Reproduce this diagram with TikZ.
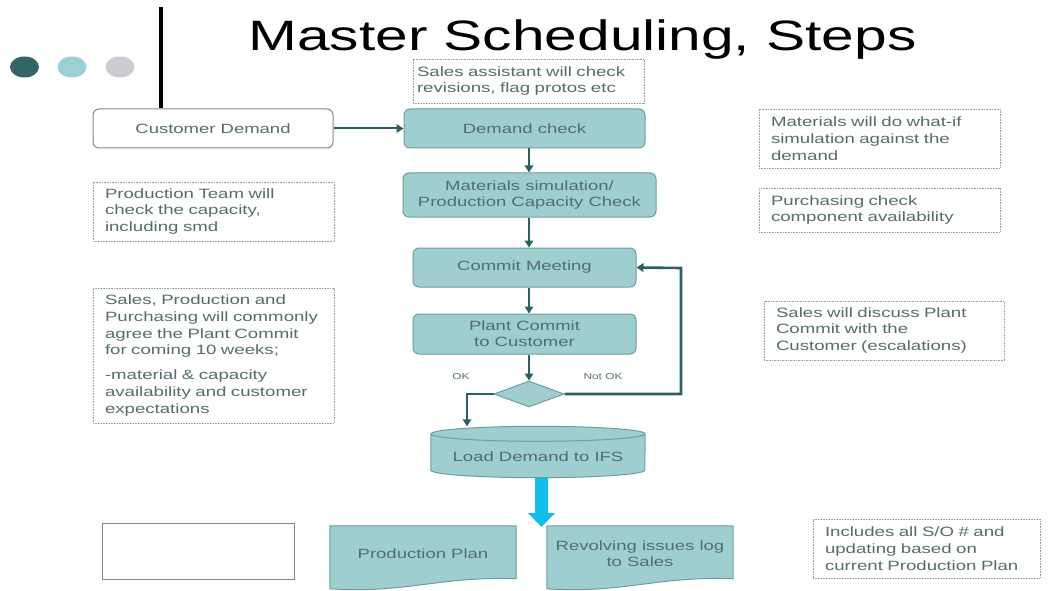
\documentclass[tikz,border=0pt]{standalone}
\usepackage{fontspec}
\setmainfont[FakeStretch=1.38]{Liberation Sans}
\usetikzlibrary{arrows.meta,calc,shapes.geometric}
\definecolor{tealfill}{RGB}{159,206,209}
\definecolor{tealline}{RGB}{108,158,161}
\definecolor{arrowteal}{RGB}{45,95,96}
\definecolor{txt}{RGB}{84,108,109}
\definecolor{notegray}{RGB}{150,162,162}
\definecolor{cyanarrow}{RGB}{18,190,232}
\definecolor{dotdark}{RGB}{52,100,102}
\definecolor{dotlight}{RGB}{157,208,214}
\definecolor{dotgray}{RGB}{206,204,210}
\definecolor{boxgray}{RGB}{120,140,140}
\begin{document}
\begin{tikzpicture}[x=1pt,y=-1pt,
  proc/.style={draw=tealline, fill=tealfill, rounded corners=6pt, line width=1pt,
    text=txt, font=\fontsize{13.4}{16}\selectfont, align=center, inner sep=0pt},
  note/.style={draw=notegray, dash pattern=on 0.8pt off 0.8pt, line width=0.8pt,
    text=txt, font=\fontsize{13.5}{16.8}\selectfont, align=left, inner xsep=12pt, inner ysep=0pt},
  flow/.style={draw=arrowteal, line width=2.6pt, -{Triangle[length=7pt,width=8.5pt]}},
  doc/.style={draw=tealline, fill=tealfill, line width=1pt},
  lbl/.style={text=txt, font=\fontsize{13.4}{16}\selectfont, align=center, inner sep=0pt},
  small/.style={text=txt, font=\fontsize{8.6}{10}\selectfont, inner sep=0pt}]
\useasboundingbox (0,0) rectangle (1050,591);

% header: bullets, rule and title
\fill[dotdark]  (24.5,67) ellipse [x radius=14.5, y radius=10.5];
\fill[dotlight] (72,67)   ellipse [x radius=14.5, y radius=10.5];
\fill[dotgray]  (120,67)  ellipse [x radius=14.5, y radius=10.5];
\draw[line width=4pt] (161,7) -- (161,108);
\node[anchor=base, inner sep=0pt] (title) at (582.5,51) {\fontsize{42.5}{50}\selectfont Master Scheduling, Steps};

% main flow
\node[proc, fill=white, draw=boxgray, minimum width=240, minimum height=39] (cust) at (213,128.5) {Customer Demand};
\node[proc, minimum width=241, minimum height=39] (demand) at (524.5,128.5) {Demand check};
\node[proc, minimum width=253, minimum height=44] (matsim) at (529.5,195) {Materials simulation/\\Production Capacity Check};
\node[proc, minimum width=223, minimum height=39] (commit) at (524.5,267.5) {Commit Meeting};
\node[proc, minimum width=223, minimum height=40] (plant) at (524.5,334) {Plant Commit\\to Customer};
\node[diamond, draw=tealline, fill=tealfill, line width=1pt, minimum width=70, minimum height=26, inner sep=0pt] (dia) at (529,394) {};

\draw[flow, line width=2pt] (cust.east) -- (demand.west);
\draw[flow] (demand.south -| dia.north) -- (matsim.north -| dia.north);
\draw[flow] (matsim.south -| dia.north) -- (commit.north -| dia.north);
\draw[flow] (commit.south -| dia.north) -- (plant.north -| dia.north);
\draw[flow] (plant.south -| dia.north) -- (dia.north);

\node[small] (ok) at (461,377) {OK};
\node[small] (notok) at (603,377) {Not OK};

% database
\node[minimum width=214, minimum height=51, inner sep=0pt] (cyl) at (538,452) {};
\draw[doc] ($(cyl.north west)+(0,7.5)$) -- ($(cyl.south west)+(0,-7.5)$)
  arc[start angle=180, end angle=0, x radius=107, y radius=7.5]
  -- ($(cyl.north east)+(0,7.5)$)
  arc[start angle=0, end angle=-180, x radius=107, y radius=7.5] -- cycle;
\draw[draw=tealline, line width=1pt] ($(cyl.north west)+(0,7.5)$)
  arc[start angle=180, end angle=0, x radius=107, y radius=7.5];
\node[lbl] (cyltext) at (538,457) {Load Demand to IFS};

% decision branches
\coordinate (okturn) at (467,394);
\coordinate (loopturn) at (681,268);
\draw[flow] (dia.west) -- (okturn) -- (okturn |- cyl.north);
\draw[flow] (dia.east) -| (loopturn) -- (commit.east);

% outputs
\coordinate (cyantop) at (541.5,478);
\fill[cyanarrow] ($(cyantop)+(-6.5,0)$) -- ($(cyantop)+(6.5,0)$) -- ($(cyantop)+(6.5,35)$)
  -- ($(cyantop)+(13.5,35)$) -- ($(cyantop)+(0,49)$) -- ($(cyantop)+(-13.5,35)$)
  -- ($(cyantop)+(-6.5,35)$) -- cycle;

\node[draw=boxgray, line width=1pt, minimum width=192, minimum height=56] (blank) at (198,551) {};

\node[minimum width=186, minimum height=54, inner sep=0pt] (pplan) at (423,553) {};
\draw[doc] (pplan.north west) -- (pplan.north east) -- ($(pplan.north east)+(0,53)$)
  .. controls ($(pplan.north east)+(-76,50)$) and ($(pplan.north east)+(-110,68)$) .. ($(pplan.north west)+(0,63)$) -- cycle;
\node[lbl] at ($(pplan.center)+(0,1)$) {Production Plan};

\node[minimum width=186, minimum height=54, inner sep=0pt] (issues) at (640,553) {};
\draw[doc] (issues.north west) -- (issues.north east) -- ($(issues.north east)+(0,53)$)
  .. controls ($(issues.north east)+(-76,50)$) and ($(issues.north east)+(-110,68)$) .. ($(issues.north west)+(0,63)$) -- cycle;
\node[lbl] at ($(issues.center)+(0,1)$) {Revolving issues log\\to Sales};

% explanatory notes
\node[note, inner xsep=4pt, text width=223, minimum height=44] (n1) at (528.5,81) {Sales assistant will check\\revisions, flag protos etc};
\node[note, text width=217, minimum height=59] (n2) at (879.5,138.5) {Materials will do what-if\\simulation against the\\demand};
\node[note, text width=217, minimum height=44] (n3) at (879.5,210) {Purchasing check\\component availability};
\node[note, text width=216, minimum height=59] (n4) at (884,330.5) {Sales will discuss Plant\\Commit with the\\Customer (escalations)};
\node[note, text width=217, minimum height=59] (n5) at (213.5,211.5) {Production Team will\\check the capacity,\\including smd};
\node[note, text width=217, minimum height=135] (n6) at (213.5,355.5) {Sales, Production and\\Purchasing will commonly\\agree the Plant Commit\\for coming 10 weeks;\\[8pt]-material \& capacity\\availability and customer\\expectations};
\node[note, text width=203, minimum height=59] (n7) at (926.5,548.5) {Includes all S/O \# and\\updating based on\\current Production Plan};
\end{tikzpicture}
\end{document}
